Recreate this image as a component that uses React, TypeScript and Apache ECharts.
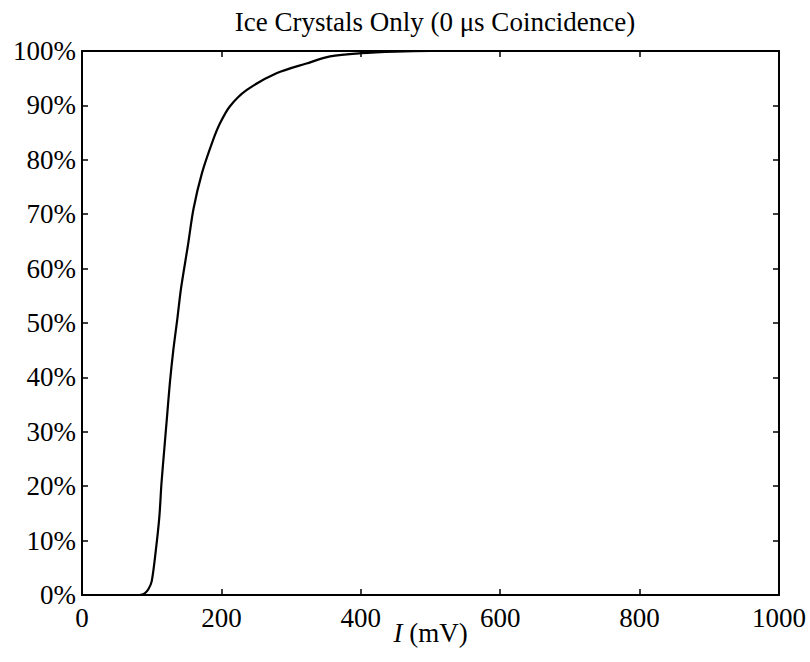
import React, { useEffect, useRef } from "react";
import * as echarts from "echarts";

const titleText = "Ice Crystals Only (0 \u03bcs Coincidence)";
const xValues = [0, 80, 86, 90, 95, 100, 106, 111, 114, 118, 122, 126, 131, 137, 142, 152, 160, 172, 188, 198, 212, 236, 279, 322, 356, 400, 450, 500, 1000];
const yValues = [0, 0, 0.1, 0.3, 1.0, 2.5, 8.3, 14.4, 20.5, 26.7, 32.8, 38.9, 45.0, 51.0, 56.3, 64.3, 71.0, 77.5, 83.6, 86.7, 89.8, 92.8, 95.9, 97.7, 99.0, 99.6, 99.9, 100, 100];
const xTicks = [0, 200, 400, 600, 800, 1000];
const yTicks = [0, 10, 20, 30, 40, 50, 60, 70, 80, 90, 100];

const FONT = "Liberation Serif";
const FS = 27;

export default function App() {
  const ref = useRef<HTMLDivElement>(null);
  useEffect(() => {
    if (!ref.current) return;
    const chart = echarts.init(ref.current, null, { renderer: "svg" });
    const data = xValues.map((x, i) => [x, yValues[i]]);
    const tickStyle = { show: true, inside: true, length: 6, lineStyle: { color: "#000", width: 1.5 } };
    const lineStyle = { show: true, onZero: false, lineStyle: { color: "#000", width: 2 } };
    chart.setOption({
      animation: false,
      backgroundColor: "#fff",
      title: {
        text: titleText,
        left: 430,
        textAlign: "center",
        top: 3,
        textStyle: { fontFamily: FONT, fontSize: FS, fontWeight: "normal", color: "#000" },
      },
      grid: { left: 82, right: 31, top: 51, bottom: 67, containLabel: false, outerBoundsMode: "none" },
      xAxis: [
        {
          type: "value",
          min: xTicks[0],
          max: xTicks[xTicks.length - 1],
          interval: 200,
          position: "bottom",
          axisLine: lineStyle,
          axisTick: tickStyle,
          splitLine: { show: false },
          axisLabel: { fontFamily: FONT, fontSize: FS, color: "#000", margin: 9, formatter: (v: number) => `${v}` },
          name: "{it|I} (mV)",
          nameLocation: "middle",
          nameGap: 24,
          nameMoveOverlap: false,
          nameTextStyle: {
            fontFamily: FONT,
            fontSize: FS,
            color: "#000",
            rich: { it: { fontFamily: FONT, fontSize: FS, fontStyle: "italic", color: "#000" } },
          },
        },
        {
          type: "value",
          min: xTicks[0],
          max: xTicks[xTicks.length - 1],
          interval: 200,
          position: "top",
          axisLine: lineStyle,
          axisTick: tickStyle,
          splitLine: { show: false },
          axisLabel: { show: false },
        },
      ],
      yAxis: [
        {
          type: "value",
          min: yTicks[0],
          max: yTicks[yTicks.length - 1],
          interval: 10,
          position: "left",
          axisLine: lineStyle,
          axisTick: tickStyle,
          splitLine: { show: false },
          axisLabel: {
            fontFamily: FONT,
            fontSize: FS,
            color: "#000",
            margin: 6,
            formatter: (v: number) => `${v}%`,
          },
        },
        {
          type: "value",
          min: yTicks[0],
          max: yTicks[yTicks.length - 1],
          interval: 10,
          position: "right",
          axisLine: lineStyle,
          axisTick: tickStyle,
          splitLine: { show: false },
          axisLabel: { show: false },
        },
      ],
      series: [
        {
          type: "line",
          data,
          xAxisIndex: 0,
          yAxisIndex: 0,
          showSymbol: false,
          smooth: 0.3,
          lineStyle: { color: "#000", width: 2.2 },
          itemStyle: { color: "#000" },
        },
      ],
    });
    return () => chart.dispose();
  }, []);
  return <div ref={ref} style={{ width: 810, height: 662, position: "absolute", left: 0, top: 0 }} />;
}
